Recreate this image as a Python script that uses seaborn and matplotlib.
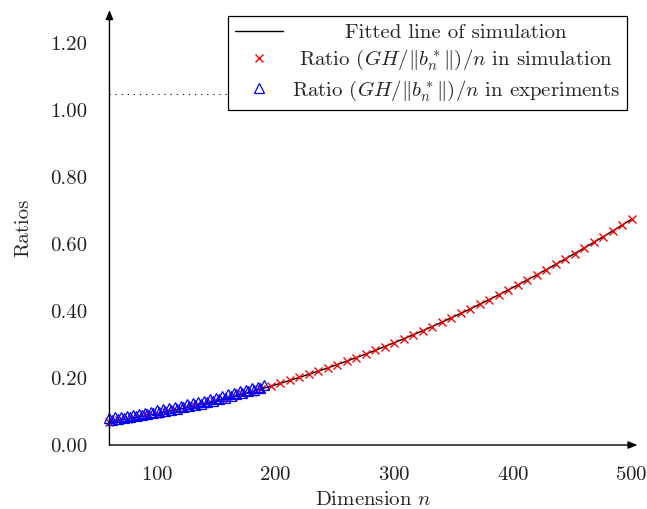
import matplotlib
matplotlib.use("Agg")
import matplotlib.pyplot as plt
import seaborn as sns

# simulation ratios (GH/||b_n*||)/n, n = 60..500 step 8
sim_dims = [60, 68, 76, 84, 92, 100, 108, 116, 124, 132, 140, 148, 156, 164,
            172, 180, 188, 196, 204, 212, 220, 228, 236, 244, 252, 260, 268,
            276, 284, 292, 300, 308, 316, 324, 332, 340, 348, 356, 364, 372,
            380, 388, 396, 404, 412, 420, 428, 436, 444, 452, 460, 468, 476,
            484, 492, 500]
sim_ratios = [0.0700, 0.0742, 0.0786, 0.0834, 0.0883, 0.0935, 0.0990, 0.1047,
              0.1107, 0.1169, 0.1234, 0.1301, 0.1371, 0.1443, 0.1518, 0.1595,
              0.1675, 0.1758, 0.1842, 0.1930, 0.2020, 0.2112, 0.2207, 0.2304,
              0.2404, 0.2507, 0.2612, 0.2719, 0.2829, 0.2942, 0.3057, 0.3174,
              0.3294, 0.3417, 0.3542, 0.3669, 0.3800, 0.3932, 0.4067, 0.4205,
              0.4345, 0.4488, 0.4633, 0.4781, 0.4931, 0.5084, 0.5239, 0.5397,
              0.5557, 0.5720, 0.5885, 0.6053, 0.6223, 0.6396, 0.6571, 0.6749]

# fitted line of simulation
fit_dims = [60, 80, 100, 120, 140, 160, 180, 200, 220, 240, 260, 280, 300,
            320, 340, 360, 380, 400, 420, 440, 460, 480, 500]
fit_ratios = [0.0700, 0.0810, 0.0935, 0.1077, 0.1234, 0.1407, 0.1595, 0.1800,
              0.2020, 0.2255, 0.2507, 0.2774, 0.3057, 0.3355, 0.3669, 0.3999,
              0.4345, 0.4706, 0.5084, 0.5477, 0.5885, 0.6310, 0.6749]

# experiments, n = 60..190
exp_dims = [60, 62, 65, 67, 70, 72, 75, 77, 80, 82, 85, 87, 90, 92, 95, 97,
            100, 102, 105, 107, 110, 112, 115, 117, 120, 122, 125, 127, 130,
            132, 135, 137, 140, 142, 145, 147, 150, 152, 155, 157, 160, 162,
            165, 167, 170, 172, 175, 177, 180, 182, 185, 187, 190]
exp_ratios = [0.080, 0.074, 0.083, 0.077, 0.085, 0.080, 0.088, 0.083, 0.091,
              0.086, 0.094, 0.089, 0.097, 0.092, 0.100, 0.095, 0.104, 0.098,
              0.107, 0.102, 0.110, 0.105, 0.114, 0.109, 0.118, 0.113, 0.122,
              0.116, 0.125, 0.120, 0.129, 0.124, 0.133, 0.129, 0.138, 0.133,
              0.142, 0.137, 0.146, 0.142, 0.151, 0.146, 0.155, 0.151, 0.160,
              0.155, 0.165, 0.160, 0.170, 0.165, 0.174, 0.170, 0.180]

ref_level = 1.05
x_ticks = [100, 200, 300, 400, 500]
y_ticks = [0.0, 0.2, 0.4, 0.6, 0.8, 1.0, 1.2]

sns.set_style("white")
plt.rcParams['font.family'] = ['cmr10', 'DejaVu Serif']
plt.rcParams['mathtext.fontset'] = 'cm'
plt.rcParams['axes.formatter.use_mathtext'] = True

fs = 15
fig = plt.figure(figsize=(6.47, 5.09), dpi=100)
ax = fig.add_axes([0.1692, 0.1257, 0.8162, 0.8546])

sns.lineplot(x=fit_dims, y=fit_ratios, ax=ax, color='black', lw=1.0,
             label='Fitted line of simulation')
sns.lineplot(x=sim_dims, y=sim_ratios, ax=ax, linestyle='', marker='x',
             color='red', markersize=6, markeredgewidth=1.0,
             markeredgecolor='red',
             label=r'Ratio $(GH/\|b_n^*\|)/n$ in simulation')
sns.lineplot(x=exp_dims, y=exp_ratios, ax=ax, linestyle='', marker='^',
             color='blue', markersize=6.5, markeredgewidth=0.9,
             markerfacecolor='none', markeredgecolor='blue',
             label=r'Ratio $(GH/\|b_n^*\|)/n$ in experiments')
for ln in ax.lines:
    ln.set_clip_on(False)

ax.hlines(ref_level, 60, 480, color='black', lw=0.8,
          linestyle=(0, (1, 4.5)))

ax.set_xlim(60, 505)
ax.set_ylim(0, 1.3)
ax.set_xticks(x_ticks)
ax.set_yticks(y_ticks)
ax.set_yticklabels([f'{v:.2f}' for v in y_ticks])
ax.tick_params(axis='both', direction='out', length=10, width=1.1,
               color='#bbbbbb', labelsize=fs, labelcolor='#222222')
ax.tick_params(axis='y', pad=6)
ax.tick_params(axis='x', pad=5)
for s in ax.spines.values():
    s.set_visible(False)
arrow = dict(arrowstyle='-|>,head_length=0.55,head_width=0.22', lw=1.0,
             color='black', shrinkA=0, shrinkB=0)
ax.annotate('', xy=(1, 0), xytext=(0, 0), xycoords='axes fraction',
            arrowprops=arrow)
ax.annotate('', xy=(0, 1), xytext=(0, 0), xycoords='axes fraction',
            arrowprops=arrow)

ax.set_xlabel(r'Dimension $n$', fontsize=fs, labelpad=5)
ax.set_ylabel('Ratios', fontsize=fs, labelpad=13)

leg = ax.legend(loc='upper right', bbox_to_anchor=(0.980, 0.986),
                borderaxespad=0, fontsize=fs, frameon=True, fancybox=False,
                edgecolor='black', framealpha=1, handlelength=2.3,
                handletextpad=0.4, labelspacing=0.28, borderpad=0.35)
leg.get_frame().set_linewidth(0.9)

# centre the legend entries like pgfplots does
fig.canvas.draw()
texts = leg.get_texts()
widths = [t.get_window_extent().width for t in texts]
maxw = max(widths)
for t, w in zip(texts, widths):
    t.set_position(((maxw - w) / 2, 0))

fig.savefig('out.png', dpi=100)
